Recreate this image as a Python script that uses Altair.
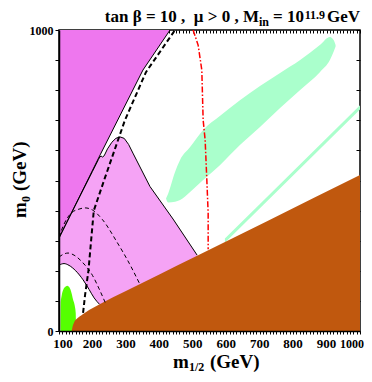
import altair as alt
import pandas as pd

# ---------------- data (m_1/2, m_0 in GeV) ----------------
magenta_m = [100, 223, 351, 432]
magenta_m0 = [309, 585, 867, 1000]

pink_m = [100, 150, 200, 218, 222, 226, 230, 235, 245, 258, 270, 282, 295, 308, 321, 372, 441, 513]
pink_m0 = [309, 420, 530, 570, 578, 581, 578, 582, 605, 627, 640, 645, 640, 620, 591, 480, 372, 252]

inner_m = [100, 115, 130, 150, 172, 190, 205, 221]
inner_m0 = [219, 224, 218, 200, 170, 138, 110, 89]

dash_out_m = [100, 115, 135, 160, 178, 200, 230, 273, 310, 342]
dash_out_m0 = [312, 355, 390, 405, 409, 402, 370, 296, 225, 155]

dash_in_m = [100, 115, 127, 145, 172, 200, 220, 238]
dash_in_m0 = [246, 256, 259, 252, 226, 185, 140, 95]

thick_m = [172, 178, 188, 196, 204, 238, 297, 360, 447]
thick_m0 = [60, 120, 200, 300, 400, 511, 700, 860, 1000]

red_m = [501, 516, 527, 531, 537, 542, 546, 546]
red_m0 = [1000, 950, 867, 701, 634, 502, 392, 272]

brown_m = [138, 140, 145, 155, 170, 190, 223, 300, 400, 513, 722, 1000]
brown_m0 = [0, 12, 28, 42, 55, 70, 90, 133, 188, 250, 365, 518]

green_m = [104.5, 105, 108, 113, 120, 125, 131, 137, 142, 147, 150, 151]
green_m0 = [0, 90, 118, 138, 148, 150, 145, 128, 105, 85, 60, 0]

band_m = [420, 426, 447, 462, 492, 531, 581, 641, 701, 761, 821, 880, 910, 922, 927]
band_hi = [440, 455, 528, 568, 611, 668, 714, 767, 814, 857, 900, 950, 977, 965, 950]
band_lo = [440, 427, 429, 435, 462, 502, 551, 618, 678, 741, 801, 860, 900, 930, 945]

strip_m = [596, 700, 800, 900, 1000]
strip_hi = [307, 421, 531, 640, 750]
strip_lo = [293, 407, 517, 626, 736]

x_ticks = list(range(100, 1001, 10))
y_ticks = list(range(0, 1001, 100))
x_first_label = [100]
x_labels = [200, 300, 400, 500, 600, 700, 800, 900]
x_last_label = [1000]

FONT = "Liberation Serif"
W, H = 301, 301
NB = "\u00a0"

xs = alt.Scale(domain=[100, 1000], nice=False, zero=False)
ys = alt.Scale(domain=[0, 1000], nice=False, zero=False)

x_axis = alt.Axis(values=x_ticks, labels=False, tickSize=3,
                  tickColor="black", domainColor="black", domainWidth=1.5,
                  title=None, grid=False, zindex=1)
y_axis = alt.Axis(values=y_ticks, labelExpr="datum.value == 0 || datum.value == 1000 ? datum.value : ''",
                  labelOverlap=False,
                  tickSize=4, labelFont=FONT, labelFontWeight="bold", labelFontSize=12,
                  labelColor="black", tickColor="black", domainColor="black", domainWidth=1.5,
                  labelPadding=2, title=None, grid=False, zindex=1, labelFlush=False)


def df(m, v, **extra):
    d = {"m": m, "v": v, "i": list(range(len(m)))}
    d.update(extra)
    return pd.DataFrame(d)


def X():
    return alt.X("m:Q", scale=xs, axis=x_axis)


def Y(field="v"):
    return alt.Y(f"{field}:Q", scale=ys, axis=y_axis)


pink = alt.Chart(df(pink_m, pink_m0)).mark_area(color="#F5A3F5", clip=True).encode(
    x=X(), y=Y(), y2=alt.Y2(datum=0))
white = alt.Chart(df(inner_m, inner_m0)).mark_area(color="white", clip=True).encode(
    x=X(), y=Y(), y2=alt.Y2(datum=0))
green = alt.Chart(df(green_m, green_m0)).mark_area(color="#55FF00", clip=True, interpolate="monotone").encode(
    x=X(), y=Y(), y2=alt.Y2(datum=0))
magenta = alt.Chart(df(magenta_m, magenta_m0)).mark_area(color="#EE77EE", clip=True).encode(
    x=X(), y=Y(), y2=alt.Y2(datum=1000))
band = alt.Chart(df(band_m, band_hi, lo=band_lo)).mark_area(color="#AAFFCC", clip=True, interpolate="monotone").encode(
    x=X(), y=Y(), y2="lo:Q")
strip = alt.Chart(df(strip_m, strip_hi, lo=strip_lo)).mark_area(color="#AAFFCC", clip=True).encode(
    x=X(), y=Y(), y2="lo:Q")
brown = alt.Chart(df(brown_m, brown_m0)).mark_area(color="#C0580E", clip=True, interpolate="monotone").encode(
    x=X(), y=Y(), y2=alt.Y2(datum=0))


def line(m, v, color="black", width=1.0, dash=None, interp="linear"):
    kw = dict(color=color, strokeWidth=width, clip=True, interpolate=interp)
    if dash:
        kw["strokeDash"] = dash
    return alt.Chart(df(m, v)).mark_line(**kw).encode(x=X(), y=Y(), order="i:Q")


lines = [
    line(magenta_m, magenta_m0),
    line(pink_m, pink_m0),
    line(inner_m, inner_m0, interp="monotone"),
    line(dash_out_m, dash_out_m0, dash=[4, 3], interp="monotone"),
    line(dash_in_m, dash_in_m0, dash=[4, 3], interp="monotone"),
    line(thick_m, thick_m0, width=2, dash=[5, 3]),
    line(red_m, red_m0, color="red", width=1.5, dash=[6, 2, 1.5, 2]),
]


# x tick labels drawn through the x scale
def xlab(values, size=13, align="center", dx=0):
    return alt.Chart(pd.DataFrame({"m": values})).mark_text(
        font=FONT, fontWeight="bold", fontSize=size, align=align, dx=dx,
        baseline="alphabetic", color="black").encode(
        x=X(), y=alt.value(318), text="m:Q")


xlabels = [xlab(x_first_label, dx=4), xlab(x_labels), xlab(x_last_label, size=12, align="right", dx=4)]


def txt(s, x, y, size=17, align="left", angle=0):
    return alt.Chart(pd.DataFrame({"a": [0]})).mark_text(
        text=s, font=FONT, fontWeight="bold", fontSize=size, align=align,
        baseline="alphabetic", angle=angle, color="black").encode(
        x=alt.value(x), y=alt.value(y))


texts = [
    txt(f"tan{NB}\u03b2{NB}={NB}10{NB},{NB}{NB}\u03bc{NB}>{NB}0{NB},{NB}M", 200, -8, align="right"),
    txt("in", 210, -4, size=12, align="right"),
    txt("=" + NB + "10", 245, -8, align="right"),
    txt("11.9", 266, -11, size=12, align="right"),
    txt("GeV", 301, -8, align="right"),
    txt("m", 114, 338, size=19),
    txt("1/2", 130, 341, size=12),
    txt("(GeV)", 151, 338, size=19),
    txt("m", -33, 188, size=19, angle=270),
    txt("0", -29, 172, size=12, angle=270),
    txt("(GeV)", -33, 161, size=19, angle=270),
]

main = alt.layer(pink, white, green, magenta, band, strip, brown, *lines, *xlabels, *texts)

frame = alt.Chart(pd.DataFrame({"m": [100], "v": [0]})).mark_point(opacity=0).encode(
    x=alt.X("m:Q", scale=xs, axis=alt.Axis(orient="top", values=x_ticks, labels=False, tickSize=3,
                                           offset=-3, domain=False, tickColor="black", title=None, grid=False)),
    y=alt.Y("v:Q", scale=ys, axis=alt.Axis(orient="right", values=y_ticks, labels=False, tickSize=4,
                                           offset=-4, domain=False, tickColor="black", title=None, grid=False)),
)

chart = alt.layer(main, frame).resolve_axis(x="independent", y="independent").properties(
    width=W, height=H, autosize=alt.AutoSizeParams(type="none"),
    padding={"left": 51, "top": 22, "right": 4, "bottom": 43},
).configure_view(stroke="black", strokeWidth=1.5)

chart.save("out.html", embed_options={"renderer": "svg", "actions": False})
